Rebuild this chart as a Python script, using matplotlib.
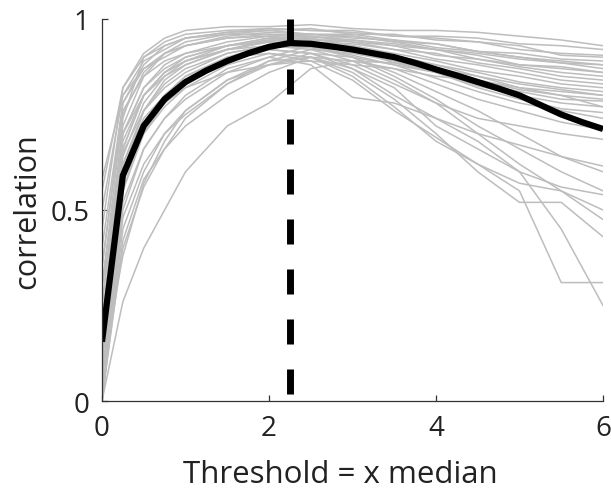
import matplotlib
matplotlib.use('Agg')
import matplotlib.pyplot as plt
import numpy as np

plt.rcParams['font.family'] = ['Open Sans', 'DejaVu Sans']

# thresholds (x median) where each recording was evaluated
x_sub = [0, 0.25, 0.5, 0.75, 1, 1.5, 2, 2.5, 3, 3.5, 4, 4.5, 5, 5.5, 6]

# individual recordings that stay high at large thresholds
high_curves = [
    [0.45, 0.82, 0.91, 0.95, 0.97, 0.98, 0.98, 0.985, 0.975, 0.97, 0.97, 0.965, 0.955, 0.945, 0.93],
    [0.35, 0.78, 0.88, 0.93, 0.95, 0.965, 0.975, 0.97, 0.97, 0.955, 0.955, 0.95, 0.935, 0.93, 0.92],
    [0.25, 0.72, 0.85, 0.91, 0.94, 0.96, 0.97, 0.975, 0.96, 0.96, 0.945, 0.94, 0.93, 0.905, 0.90],
    [0.50, 0.80, 0.89, 0.92, 0.95, 0.965, 0.97, 0.96, 0.96, 0.945, 0.935, 0.915, 0.91, 0.895, 0.89],
    [0.20, 0.70, 0.82, 0.88, 0.91, 0.94, 0.955, 0.96, 0.95, 0.945, 0.925, 0.915, 0.90, 0.89, 0.88],
    [0.05, 0.60, 0.76, 0.84, 0.88, 0.92, 0.945, 0.95, 0.955, 0.94, 0.92, 0.91, 0.895, 0.885, 0.88],
    [0.30, 0.75, 0.86, 0.91, 0.93, 0.955, 0.965, 0.96, 0.955, 0.94, 0.935, 0.915, 0.90, 0.885, 0.87],
    [0.10, 0.66, 0.80, 0.86, 0.90, 0.93, 0.95, 0.955, 0.945, 0.935, 0.92, 0.905, 0.88, 0.87, 0.86],
    [0.58, 0.80, 0.87, 0.90, 0.93, 0.95, 0.955, 0.945, 0.945, 0.93, 0.92, 0.895, 0.88, 0.875, 0.86],
    [0.40, 0.78, 0.87, 0.91, 0.93, 0.95, 0.96, 0.955, 0.94, 0.93, 0.905, 0.895, 0.875, 0.86, 0.85],
    [0.15, 0.74, 0.90, 0.94, 0.96, 0.97, 0.975, 0.97, 0.965, 0.955, 0.95, 0.94, 0.92, 0.91, 0.905],
]

# recordings with a moderate decline
mid_curves = [
    [0.00, 0.55, 0.72, 0.80, 0.85, 0.90, 0.93, 0.94, 0.935, 0.92, 0.91, 0.885, 0.87, 0.85, 0.84],
    [0.15, 0.64, 0.78, 0.85, 0.89, 0.93, 0.95, 0.945, 0.94, 0.92, 0.895, 0.88, 0.86, 0.84, 0.83],
    [0.55, 0.82, 0.90, 0.93, 0.95, 0.96, 0.96, 0.95, 0.93, 0.91, 0.89, 0.865, 0.85, 0.83, 0.82],
    [0.05, 0.52, 0.66, 0.74, 0.79, 0.86, 0.90, 0.93, 0.92, 0.90, 0.88, 0.86, 0.835, 0.82, 0.81],
    [0.20, 0.68, 0.80, 0.86, 0.89, 0.92, 0.94, 0.935, 0.93, 0.905, 0.88, 0.85, 0.83, 0.815, 0.80],
    [0.25, 0.70, 0.82, 0.87, 0.90, 0.93, 0.945, 0.94, 0.92, 0.90, 0.865, 0.84, 0.815, 0.80, 0.79],
    [0.00, 0.48, 0.62, 0.70, 0.75, 0.83, 0.89, 0.92, 0.91, 0.89, 0.86, 0.825, 0.80, 0.78, 0.77],
    [0.10, 0.62, 0.76, 0.83, 0.87, 0.91, 0.93, 0.925, 0.92, 0.885, 0.86, 0.82, 0.79, 0.765, 0.755],
    [0.35, 0.76, 0.85, 0.89, 0.91, 0.93, 0.94, 0.93, 0.905, 0.88, 0.845, 0.81, 0.78, 0.76, 0.74],
    [0.00, 0.42, 0.58, 0.66, 0.72, 0.80, 0.86, 0.90, 0.89, 0.87, 0.83, 0.79, 0.76, 0.73, 0.71],
    [0.00, 0.26, 0.40, 0.50, 0.60, 0.72, 0.78, 0.87, 0.89, 0.885, 0.87, 0.85, 0.82, 0.80, 0.77],
    [0.08, 0.38, 0.57, 0.68, 0.76, 0.84, 0.88, 0.91, 0.90, 0.88, 0.86, 0.83, 0.81, 0.79, 0.785],
    [0.30, 0.60, 0.72, 0.78, 0.82, 0.86, 0.88, 0.89, 0.88, 0.87, 0.85, 0.84, 0.82, 0.81, 0.80],
]

# recordings that drop steeply at large thresholds
low_curves = [
    [0.05, 0.55, 0.70, 0.78, 0.83, 0.89, 0.92, 0.91, 0.87, 0.80, 0.74, 0.68, 0.60, 0.45, 0.25],
    [0.10, 0.60, 0.72, 0.80, 0.85, 0.90, 0.91, 0.89, 0.84, 0.76, 0.69, 0.62, 0.55, 0.31, 0.31],
    [0.00, 0.45, 0.60, 0.70, 0.76, 0.84, 0.89, 0.90, 0.86, 0.79, 0.70, 0.60, 0.52, 0.52, 0.43],
    [0.20, 0.65, 0.76, 0.82, 0.86, 0.91, 0.93, 0.92, 0.89, 0.84, 0.78, 0.70, 0.62, 0.55, 0.475],
    [0.10, 0.58, 0.70, 0.77, 0.82, 0.88, 0.91, 0.90, 0.85, 0.77, 0.68, 0.62, 0.57, 0.55, 0.50],
    [0.30, 0.70, 0.80, 0.85, 0.88, 0.92, 0.94, 0.93, 0.90, 0.85, 0.79, 0.72, 0.66, 0.60, 0.55],
    [0.00, 0.50, 0.66, 0.74, 0.80, 0.87, 0.90, 0.88, 0.795, 0.78, 0.74, 0.70, 0.67, 0.64, 0.615],
    [0.15, 0.62, 0.74, 0.80, 0.84, 0.89, 0.92, 0.91, 0.88, 0.83, 0.78, 0.74, 0.72, 0.70, 0.685],
    [0.02, 0.40, 0.56, 0.66, 0.74, 0.83, 0.88, 0.90, 0.87, 0.82, 0.72, 0.66, 0.60, 0.56, 0.54],
    [0.12, 0.66, 0.80, 0.86, 0.89, 0.92, 0.93, 0.925, 0.90, 0.86, 0.81, 0.76, 0.70, 0.64, 0.60],
]

# average over recordings
x_mean = [0, 0.25, 0.5, 0.75, 1, 1.25, 1.5, 1.75, 2, 2.25, 2.5, 2.75, 3,
          3.25, 3.5, 3.75, 4, 4.25, 4.5, 4.75, 5, 5.25, 5.5, 5.75, 6]
mean_corr = [0.155, 0.59, 0.72, 0.79, 0.835, 0.865, 0.89, 0.91, 0.927, 0.937, 0.935, 0.928, 0.92,
             0.91, 0.90, 0.885, 0.868, 0.852, 0.835, 0.818, 0.80, 0.775, 0.75, 0.73, 0.712]

best_threshold = 2.25

fig = plt.figure(figsize=(6.11, 5.02), dpi=100)
ax = fig.add_axes([0.1669, 0.1992, 0.8200, 0.7610])

for curve in high_curves + mid_curves + low_curves:
    ax.plot(x_sub, curve, color='#bdbdbd', lw=1.1)

ax.plot(x_mean, mean_corr, color='k', lw=4.5, solid_capstyle='butt')
ax.plot([best_threshold, best_threshold], [1, 0], color='k', lw=5,
        linestyle=(0, (3.6, 3.6)), dash_capstyle='butt')

ax.set_xlim(0, 6)
ax.set_ylim(0, 1)
ax.set_xticks([0, 2, 4, 6])
ax.set_yticks([0, 0.5, 1])
ax.set_yticklabels(['0', '0.5', '1'])
ax.spines['top'].set_visible(False)
ax.spines['right'].set_visible(False)
for s in ['left', 'bottom']:
    ax.spines[s].set_color('#333333')
    ax.spines[s].set_linewidth(0.9)
ax.tick_params(direction='in', length=4.5, width=0.9, color='#333333',
               labelsize=20, labelcolor='#222222', pad=9)
ax.set_xlabel('Threshold = x median', fontsize=22.5, color='#222222')
ax.xaxis.set_label_coords(0.476, -0.152)
ax.set_ylabel('correlation', fontsize=22, color='#222222', labelpad=6)

plt.savefig('out.png', dpi=100)
